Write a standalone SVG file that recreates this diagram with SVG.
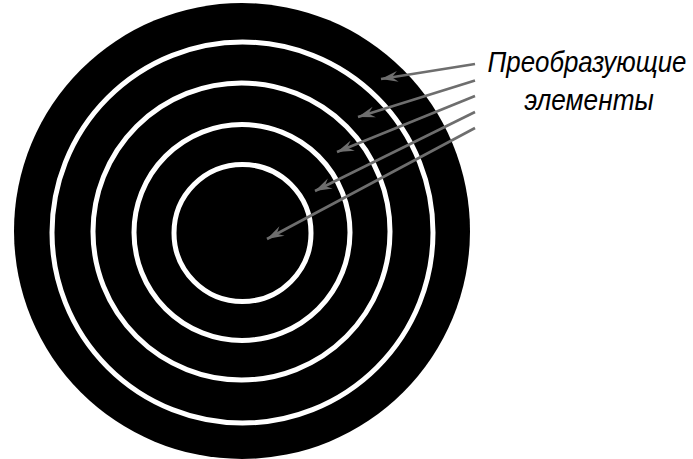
<svg xmlns="http://www.w3.org/2000/svg" width="693" height="459" viewBox="0 0 693 459">
<style>
.ring{fill:none;stroke:#fff;stroke-width:5}
.arr{fill:none;stroke:#6e6e6e;stroke-width:2.6;marker-end:url(#ah)}
.lbl{font-family:"Liberation Sans",Arial,sans-serif;font-style:italic;font-size:29px;fill:#000;text-anchor:middle}
</style>
<defs>
<marker id="ah" viewBox="-18 -7 19 14" markerWidth="19" markerHeight="14" refX="0" refY="0" orient="auto" markerUnits="userSpaceOnUse">
<path d="M0,0 L-17,-5.5 L-11,0 L-17,5.5 Z" fill="#6e6e6e"/>
</marker>
</defs>
<g id="target">
<circle cx="242" cy="231" r="228" fill="#000"/>
<circle class="ring" cx="242.5" cy="232.5" r="190.5"/>
<circle class="ring" cx="241.5" cy="231.5" r="148.5"/>
<circle class="ring" cx="242" cy="232.5" r="108"/>
<circle class="ring" cx="242.5" cy="233" r="68.5"/>
</g>
<g id="connectors">
<path class="arr" d="M475,64 L381,79"/>
<path class="arr" d="M475,80.5 L358,117"/>
<path class="arr" d="M475,96 L337,152"/>
<path class="arr" d="M475,112 L315,191"/>
<path class="arr" d="M475,128 L267,239"/>
</g>
<g id="label">
<text class="lbl" transform="translate(587,72) scale(0.9,1)" x="0" y="0" textLength="221" lengthAdjust="spacingAndGlyphs">Преобразующие</text>
<text class="lbl" transform="translate(589,110) scale(0.9,1)" x="0" y="0" textLength="144" lengthAdjust="spacingAndGlyphs">элементы</text>
</g>
</svg>
